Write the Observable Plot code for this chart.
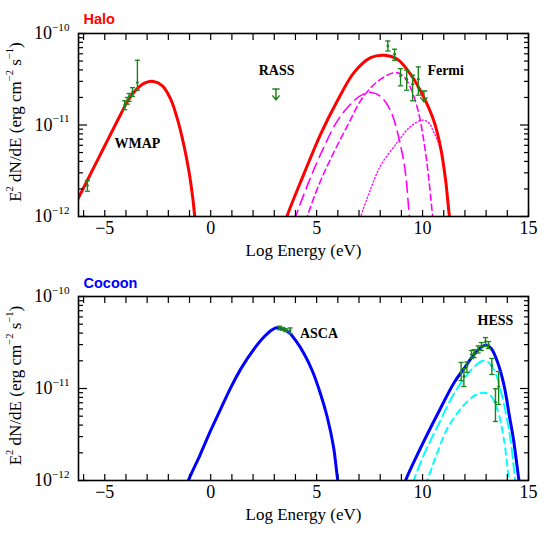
<!DOCTYPE html>
<html><head><meta charset="utf-8">
<script src="https://cdn.jsdelivr.net/npm/d3@7"></script>
<script src="https://cdn.jsdelivr.net/npm/@observablehq/plot@0.6"></script>
<style>
html,body{margin:0;padding:0;background:#fff;}
#chart{width:558px;height:558px;position:relative;overflow:hidden;}
#chart svg{display:block;}
</style></head><body><div id="chart"></div>
<script>
// ---------- Halo panel curves ----------
const haloSynX = [-6.3, -5.8, -5.3, -4.8, -4.3, -3.9, -3.5, -3.1, -2.7, -2.28, -1.89, -1.57, -1.26, -1.02, -0.86, -0.75, -0.7];
const haloSynY = [1.50e-12, 2.55e-12, 4.32e-12, 7.33e-12, 1.24e-11, 1.85e-11, 2.45e-11, 2.88e-11, 2.99e-11, 2.68e-11, 1.92e-11, 1.16e-11, 5.94e-12, 3.04e-12, 1.69e-12, 1.0e-12, 0.85e-12];
const haloICX = [3.55, 3.62, 4.40, 5.19, 5.98, 6.76, 7.55, 8.18, 8.81, 9.43, 10.06, 10.53, 10.85, 11.09, 11.27, 11.33];
const haloICY = [0.88e-12, 1.03e-12, 2.92e-12, 7.96e-12, 1.84e-11, 3.74e-11, 5.44e-11, 5.78e-11, 5.23e-11, 3.59e-11, 2.0e-11, 1.11e-11, 5.69e-12, 2.47e-12, 1.0e-12, 0.85e-12];
const icLongX = [3.95, 4.01, 4.6, 5.19, 5.98, 6.76, 7.25, 7.6, 8.0, 8.49, 8.96, 9.2, 9.38, 9.42];
const icLongY = [0.9e-12, 1.0e-12, 2.3e-12, 4.8e-12, 1.11e-11, 1.84e-11, 2.2e-11, 2.27e-11, 2.07e-11, 1.43e-11, 6.0e-12, 2.9e-12, 1.0e-12, 0.88e-12];
const icShortX = [4.5, 4.56, 5.1, 5.66, 6.45, 7.23, 8.02, 8.73, 9.1, 9.45, 9.8, 10.1, 10.3, 10.48, 10.52];
const icShortY = [0.88e-12, 1.0e-12, 2.2e-12, 4.26e-12, 9.8e-12, 2.08e-11, 3.17e-11, 3.74e-11, 3.4e-11, 2.5e-11, 1.4e-11, 5.8e-12, 2.5e-12, 1.0e-12, 0.88e-12];
const icDotX = [7.0, 7.08, 7.55, 8.02, 8.81, 9.4, 9.99, 10.3, 10.53, 10.85, 11.09, 11.27, 11.33];
const icDotY = [0.88e-12, 1.0e-12, 2.0e-12, 3.6e-12, 6.45e-12, 9.5e-12, 1.13e-11, 1.05e-11, 8.3e-12, 5.5e-12, 2.4e-12, 1.0e-12, 0.85e-12];

// ---------- Halo panel data ----------
const wmapX  = [-5.82, -4.06, -3.93, -3.85, -3.69, -3.46];
const wmapY  = [2.18e-12, 1.65e-11, 1.84e-11, 2.03e-11, 2.27e-11, 2.91e-11];
const wmapHi = [2.47e-12, 1.84e-11, 2.0e-11, 2.21e-11, 2.56e-11, 5.1e-11];
const wmapLo = [1.89e-12, 1.47e-11, 1.69e-11, 1.81e-11, 2.05e-11, 2.4e-11];
const fermiX  = [8.36, 8.68, 8.96, 9.25, 9.53, 9.80];
const fermiY  = [7.3e-11, 5.93e-11, 3.44e-11, 3.17e-11, 2.79e-11, 3.17e-11];
const fermiHi = [8.28e-11, 6.73e-11, 4.13e-11, 3.97e-11, 3.5e-11, 4.31e-11];
const fermiLo = [6.44e-11, 5.1e-11, 2.68e-11, 2.4e-11, 1.84e-11, 2.12e-11];
const ulX = [3.08, 10.06];   // RASS and Fermi upper limits
const ulY = [2.48e-11, 2.36e-11];
const haloLabels = ["WMAP", "RASS", "Fermi"];
const haloLabelX = [-3.46, 3.11, 11.09];
const haloLabelY = [6.2e-12, 3.9e-11, 3.9e-11];

// ---------- Cocoon panel curves ----------
const cocSynX = [-1.1, -1.05, -0.5, 0.0, 0.5, 1.0, 1.5, 2.0, 2.5, 2.9, 3.1, 3.4, 3.7, 4.0, 4.4, 4.8, 5.2, 5.5, 5.8, 6.0, 6.05];
const cocSynY = [0.9e-12, 1.0e-12, 1.9e-12, 3.5e-12, 6.2e-12, 1.08e-11, 1.75e-11, 2.6e-11, 3.6e-11, 4.35e-11, 4.57e-11, 4.45e-11, 4.05e-11, 3.35e-11, 2.4e-11, 1.55e-11, 8.5e-12, 4.9e-12, 2.3e-12, 1.0e-12, 0.9e-12];
const cocICX = [9.15, 9.2, 10.0, 10.8, 11.5, 12.0, 12.4, 12.8, 13.0, 13.25, 13.55, 13.85, 14.1, 14.3, 14.55, 14.6];
const cocICY = [0.9e-12, 1.0e-12, 2.5e-12, 5.8e-12, 1.17e-11, 1.7e-11, 2.3e-11, 2.85e-11, 2.95e-11, 2.7e-11, 1.9e-11, 1.07e-11, 5.0e-12, 2.7e-12, 1.0e-12, 0.85e-12];
const cocLongX = [9.55, 9.59, 10.1, 10.69, 11.48, 12.27, 12.85, 13.1, 13.4, 13.7, 14.0, 14.2, 14.38, 14.43];
const cocLongY = [0.9e-12, 1.0e-12, 2.0e-12, 3.8e-12, 8.75e-12, 1.57e-11, 2.0e-11, 1.93e-11, 1.55e-11, 9.3e-12, 4.5e-12, 2.3e-12, 1.0e-12, 0.88e-12];
const cocShortX = [10.15, 10.22, 10.6, 11.17, 11.95, 12.5, 12.9, 13.2, 13.52, 13.85, 14.08, 14.13];
const cocShortY = [0.9e-12, 1.0e-12, 1.75e-12, 3.67e-12, 6.6e-12, 8.5e-12, 9.0e-12, 8.4e-12, 6.0e-12, 2.7e-12, 1.0e-12, 0.88e-12];

// ---------- Cocoon panel data ----------
const ascaX  = [3.25, 3.4, 3.55, 3.75];
const ascaY  = [4.55e-11, 4.45e-11, 4.3e-11, 4.25e-11];
const ascaHi = [4.75e-11, 4.6e-11, 4.45e-11, 4.55e-11];
const ascaLo = [4.35e-11, 4.3e-11, 4.15e-11, 3.95e-11];
const hessX  = [11.82, 11.95, 12.09, 12.31, 12.43, 12.62, 12.78, 12.97, 13.11, 13.27, 13.59, 13.44];
const hessY  = [1.49e-11, 1.35e-11, 1.73e-11, 2.34e-11, 2.40e-11, 2.65e-11, 2.87e-11, 3.24e-11, 2.97e-11, 1.78e-11, 1.05e-11, 7.1e-12];
const hessHi = [1.92e-11, 1.65e-11, 1.94e-11, 2.59e-11, 2.64e-11, 2.90e-11, 3.16e-11, 3.58e-11, 3.24e-11, 2.12e-11, 1.53e-11, 9.93e-12];
const hessLo = [1.22e-11, 1.05e-11, 1.50e-11, 2.12e-11, 2.17e-11, 2.43e-11, 2.59e-11, 2.87e-11, 2.72e-11, 1.42e-11, 6.7e-12, 4.38e-12];
const cocLabels = ["ASCA", "HESS"];
const cocLabelX = [5.11, 13.44];
const cocLabelY = [3.94e-11, 5.48e-11];

// ---------- axes ----------
const xDomain = [-6.24, 15];
const yDomain = [1e-12, 1e-10];
const xMinorTicks = d3.range(-6, 16);
const xLabelTicks = [-5, 0, 5, 10, 15];
const yMajorTicks = [1e-12, 1e-11, 1e-10];
const yMinorTicks = [2,3,4,5,6,7,8,9].flatMap(m => [m * 1e-12, m * 1e-11]);
const xTitle = "Log Energy (eV)";
const yTitle = "E^{2} dN/dE (erg cm^{−2} s^{−1})";

const GREEN = "#1a861a";
const zip = (xs, ys) => xs.map((x, i) => ({x, y: ys[i]}));
const bars = (xs, ys, hi, lo) => xs.map((x, i) => ({x, y: ys[i], hi: hi[i], lo: lo[i]}));
const labs = (t, xs, ys) => t.map((s, i) => ({text: s, x: xs[i], y: ys[i]}));

const capSym = {draw(ctx, size) { const r = Math.sqrt(size / Math.PI); ctx.moveTo(-r, 0); ctx.lineTo(r, 0); }};
const ulSym = {draw(ctx, size) {
  const r = Math.sqrt(size / Math.PI);
  ctx.moveTo(-r, 0); ctx.lineTo(r, 0);
  ctx.moveTo(0, 0); ctx.lineTo(0, 3 * r);
  ctx.moveTo(-r, 1.8 * r); ctx.lineTo(0, 3 * r); ctx.lineTo(r, 1.8 * r);
}};

const fmtX = d => d < 0 ? "−" + Math.abs(d) : String(d);
const fmtY = d => "10^{" + String(Math.round(Math.log10(d))).replace("-", "−") + "}";

function axisMarks() {
  return [
    Plot.axisX({anchor: "bottom", ticks: xMinorTicks, tickSize: -6, tickFormat: () => "", label: null, strokeWidth: 1.2}),
    Plot.axisX({anchor: "top", ticks: xMinorTicks, tickSize: -6, tickFormat: () => "", label: null, strokeWidth: 1.2}),
    Plot.axisX({anchor: "bottom", ticks: xLabelTicks, tickSize: 0, tickPadding: 5, tickFormat: fmtX, label: null, fontSize: 18}),
    Plot.axisY({anchor: "left", ticks: yMinorTicks, tickSize: -5, tickFormat: () => "", label: null, strokeWidth: 1.2}),
    Plot.axisY({anchor: "right", ticks: yMinorTicks, tickSize: -5, tickFormat: () => "", label: null, strokeWidth: 1.2}),
    Plot.axisY({anchor: "left", ticks: yMajorTicks, tickSize: -9, tickFormat: () => "", label: null, strokeWidth: 1.2}),
    Plot.axisY({anchor: "right", ticks: yMajorTicks, tickSize: -9, tickFormat: () => "", label: null, strokeWidth: 1.2}),
    Plot.axisY({anchor: "left", ticks: yMajorTicks, tickSize: 0, tickPadding: 9, tickFormat: fmtY, label: null, fontSize: 18}),
    Plot.text([xTitle], {text: d => d, frameAnchor: "bottom", dy: 34, lineAnchor: "middle", fontSize: 17}),
    Plot.text([yTitle], {text: d => d, frameAnchor: "left", textAnchor: "middle", dx: -63, dy: -3, rotate: -90, lineAnchor: "middle", fontSize: 17}),
    Plot.frame({stroke: "black", strokeWidth: 1.6})
  ];
}

function dataMarks(rows) {
  return [
    Plot.ruleX(rows, {x: "x", y1: "lo", y2: "hi", stroke: GREEN, strokeWidth: 1.4}),
    Plot.dot(rows, {x: "x", y: "hi", symbol: capSym, r: 2.6, stroke: GREEN, strokeWidth: 1.3}),
    Plot.dot(rows, {x: "x", y: "lo", symbol: capSym, r: 2.6, stroke: GREEN, strokeWidth: 1.3}),
    Plot.dot(rows, {x: "x", y: "y", r: 1.4, fill: GREEN})
  ];
}

function supify(svg) {
  const NS = "http://www.w3.org/2000/svg";
  svg.querySelectorAll("text").forEach(t => {
    const s = t.textContent;
    if (!s.includes("^{")) return;
    while (t.firstChild) t.removeChild(t.firstChild);
    const parts = s.split(/(\^\{[^}]*\})/).filter(p => p);
    let up = false;
    for (const p of parts) {
      const ts = document.createElementNS(NS, "tspan");
      if (p.startsWith("^{")) {
        ts.textContent = p.slice(2, -1);
        ts.setAttribute("font-size", "0.62em");
        ts.setAttribute("dy", "-0.75em");
        up = true;
      } else {
        ts.textContent = p;
        if (up) ts.setAttribute("dy", "0.465em");
        up = false;
      }
      t.appendChild(ts);
    }
  });
  return svg;
}

const common = {
  width: 558, marginLeft: 78, marginRight: 30,
  x: {type: "linear", domain: xDomain, label: null},
  y: {type: "log", domain: yDomain, label: null},
  style: {fontFamily: "'Liberation Serif', 'DejaVu Serif', serif", background: "white", color: "black", overflow: "visible"}
};

const lineOpts = {x: "x", y: "y", curve: "catmull-rom", clip: true};

const halo = Plot.plot({
  ...common, height: 265, marginTop: 33, marginBottom: 49,
  marks: [
    Plot.line(zip(icLongX, icLongY), {...lineOpts, stroke: "#ff00ff", strokeWidth: 1.6, strokeDasharray: "11,6"}),
    Plot.line(zip(icShortX, icShortY), {...lineOpts, stroke: "#ff00ff", strokeWidth: 1.6, strokeDasharray: "6,4"}),
    Plot.line(zip(icDotX, icDotY), {...lineOpts, stroke: "#ff00ff", strokeWidth: 1.3, strokeDasharray: "1.3,2.2"}),
    Plot.line(zip(haloSynX, haloSynY), {...lineOpts, stroke: "#ff0000", strokeWidth: 3}),
    Plot.line(zip(haloICX, haloICY), {...lineOpts, stroke: "#ff0000", strokeWidth: 3}),
    ...dataMarks(bars(wmapX, wmapY, wmapHi, wmapLo)),
    ...dataMarks(bars(fermiX, fermiY, fermiHi, fermiLo)),
    Plot.dot(zip(ulX, ulY), {x: "x", y: "y", symbol: ulSym, r: 3.6, stroke: GREEN, strokeWidth: 1.5}),
    Plot.text(labs(haloLabels, haloLabelX, haloLabelY), {x: "x", y: "y", text: "text", fontWeight: "bold", fontSize: 14}),
    Plot.text(["Halo"], {text: d => d, frameAnchor: "top-left", textAnchor: "start", lineAnchor: "middle", dx: 5, dy: -14, fill: "#ff0000", fontWeight: "bold", fontSize: 14.5, fontFamily: "'Liberation Sans', Arial, sans-serif"}),
    ...axisMarks()
  ]
});

const cocoon = Plot.plot({
  ...common, height: 293, marginTop: 31, marginBottom: 78,
  marks: [
    Plot.line(zip(cocLongX, cocLongY), {...lineOpts, stroke: "#00ffff", strokeWidth: 2, strokeDasharray: "10,5"}),
    Plot.line(zip(cocShortX, cocShortY), {...lineOpts, stroke: "#00ffff", strokeWidth: 2, strokeDasharray: "6,5"}),
    Plot.line(zip(cocSynX, cocSynY), {...lineOpts, stroke: "#0000ff", strokeWidth: 3}),
    Plot.line(zip(cocICX, cocICY), {...lineOpts, stroke: "#0000ff", strokeWidth: 3}),
    ...dataMarks(bars(ascaX, ascaY, ascaHi, ascaLo)),
    ...dataMarks(bars(hessX, hessY, hessHi, hessLo)),
    Plot.text(labs(cocLabels, cocLabelX, cocLabelY), {x: "x", y: "y", text: "text", fontWeight: "bold", fontSize: 14}),
    Plot.text(["Cocoon"], {text: d => d, frameAnchor: "top-left", textAnchor: "start", lineAnchor: "middle", dx: 5, dy: -13, fill: "#0000ff", fontWeight: "bold", fontSize: 14.5, fontFamily: "'Liberation Sans', Arial, sans-serif"}),
    ...axisMarks()
  ]
});

const root = document.getElementById("chart");
root.appendChild(supify(halo));
root.appendChild(supify(cocoon));
</script></body></html>
